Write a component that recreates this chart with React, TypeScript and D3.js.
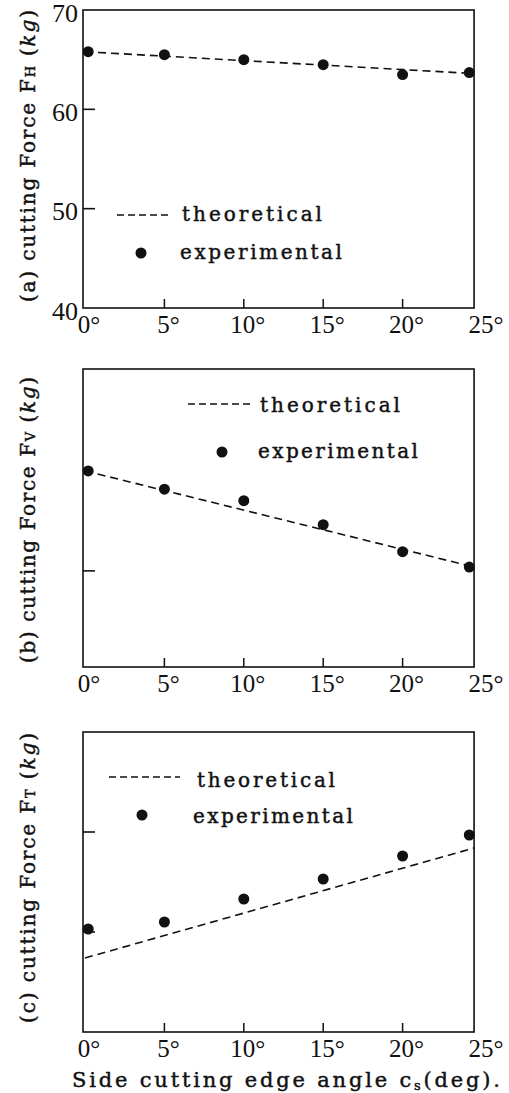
import React, { useEffect, useRef } from 'react'
import * as d3 from 'd3'

// side cutting edge angle of each measurement (deg)
const angles = [0.2, 5, 10, 15, 20, 24.2]
// experimental forces (kg)
const expH = [65.8, 65.5, 65.0, 64.5, 63.5, 63.7]
const expV = [30.4, 28.5, 27.3, 24.8, 22.0, 20.4]
const expT = [20.3, 21.0, 23.3, 25.3, 27.6, 29.7]
// theoretical line end points
const theoryAngles = [0, 24.5]
const theoryH = [65.8, 63.6]
const theoryV = [30.4, 20.4]
const theoryT = [17.4, 28.4]

const xTicks = [0, 5, 10, 15, 20, 25]
const xTickLabels = ['0°', '5°', '10°', '15°', '20°', '25°']
const hTickValues = [40, 50, 60, 70]
const hTickLabels = ['40', '50', '60', '70']

const SERIF = '"DejaVu Serif", serif'
const NUM = '"Liberation Serif", serif'

export default function App() {
  const ref = useRef<SVGSVGElement>(null)

  useEffect(() => {
    const svg = d3.select(ref.current)
    svg.selectAll('*').remove()

    const x = d3.scaleLinear().domain([0, 25]).range([85, 482])
    const frameMax = 24.5

    const panels = [
      {
        tag: '(a)', sub: 'H', top: 10, bottom: 308, domain: [40, 70], exp: expH, theory: theoryH,
        innerTicks: [50, 60], labels: true, labelCenter: 156, labelLen: 292,
        leg: { dx1: 117, dx2: 168, dy: 215, tx: 182, ty: 221, tw: 140, cx: 141, cy: 253, ex: 180, ey: 259, ew: 162 },
      },
      {
        tag: '(b)', sub: 'V', top: 369, bottom: 667, domain: [10, 41], exp: expV, theory: theoryV,
        innerTicks: [20], labels: false, labelCenter: 520, labelLen: 286,
        leg: { dx1: 188, dx2: 250, dy: 404, tx: 260, ty: 412, tw: 140, cx: 222, cy: 452, ex: 258, ey: 458, ew: 160 },
      },
      {
        tag: '(c)', sub: 'T', top: 732, bottom: 1032, domain: [10, 40], exp: expT, theory: theoryT,
        innerTicks: [20, 30], labels: false, labelCenter: 878, labelLen: 290,
        leg: { dx1: 109, dx2: 180, dy: 777, tx: 197, ty: 787, tw: 138, cx: 142, cy: 815, ex: 193, ey: 823, ew: 160 },
      },
    ]

    // heavier strokes on the typewriter-like text
    const heavy = (sel: any, size: number) => sel
      .style('font-family', SERIF).style('font-size', size + 'px')
      .attr('fill', '#111').attr('stroke', '#111').attr('stroke-width', 0.45)

    panels.forEach(p => {
      const y = d3.scaleLinear().domain(p.domain).range([p.bottom, p.top])
      const g = svg.append('g')
      const left = x(0) - 2
      const right = x(frameMax)

      // frame
      g.append('rect')
        .attr('x', left).attr('y', p.top)
        .attr('width', right - left).attr('height', p.bottom - p.top)
        .attr('fill', 'none').attr('stroke', '#111').attr('stroke-width', 1.6)

      // inner x ticks
      g.selectAll('line.xt').data([5, 10, 15, 20]).enter().append('line')
        .attr('x1', d => x(d)).attr('x2', d => x(d))
        .attr('y1', p.bottom).attr('y2', p.bottom - 9)
        .attr('stroke', '#111').attr('stroke-width', 1.5)

      // inner y ticks
      g.selectAll('line.yt').data(p.innerTicks).enter().append('line')
        .attr('x1', left).attr('x2', left + 12)
        .attr('y1', d => y(d)).attr('y2', d => y(d))
        .attr('stroke', '#111').attr('stroke-width', 1.6)

      // x tick labels
      g.selectAll('text.xl').data(xTicks).enter().append('text')
        .attr('x', d => x(d) + 4).attr('y', p.bottom + 25)
        .attr('text-anchor', 'middle')
        .style('font-family', NUM).style('font-size', '25px').attr('fill', '#111')
        .text((d, i) => xTickLabels[i])

      if (p.labels) {
        g.selectAll('text.yl').data(hTickValues).enter().append('text')
          .attr('x', left - 5).attr('y', d => y(d))
          .attr('dy', '0.45em')
          .attr('text-anchor', 'end')
          .style('font-family', NUM).style('font-size', '26px').attr('fill', '#111')
          .text((d, i) => hTickLabels[i])
      }

      // theoretical line
      const line = d3.line<number>()
        .x((d, i) => x(theoryAngles[i]))
        .y(d => y(d))
      g.append('path')
        .attr('d', line(p.theory))
        .attr('fill', 'none').attr('stroke', '#111').attr('stroke-width', 1.6)
        .attr('stroke-dasharray', '8,5')

      // experimental points
      g.selectAll('circle.pt').data(p.exp).enter().append('circle')
        .attr('cx', (d, i) => x(angles[i])).attr('cy', d => y(d))
        .attr('r', 5.5).attr('fill', '#111')

      // legend
      const L = p.leg
      g.append('line')
        .attr('x1', L.dx1).attr('x2', L.dx2).attr('y1', L.dy).attr('y2', L.dy)
        .attr('stroke', '#111').attr('stroke-width', 1.6).attr('stroke-dasharray', '7,4')
      heavy(g.append('text'), 20)
        .attr('x', L.tx).attr('y', L.ty)
        .attr('textLength', L.tw).attr('lengthAdjust', 'spacing')
        .text('theoretical')
      g.append('circle').attr('cx', L.cx).attr('cy', L.cy).attr('r', 5.5).attr('fill', '#111')
      heavy(g.append('text'), 20)
        .attr('x', L.ex).attr('y', L.ey)
        .attr('textLength', L.ew).attr('lengthAdjust', 'spacing')
        .text('experimental')

      // rotated y label
      const yl = heavy(g.append('text'), 20)
        .attr('transform', 'translate(35,' + p.labelCenter + ') rotate(-90)')
        .attr('text-anchor', 'middle')
        .attr('textLength', p.labelLen).attr('lengthAdjust', 'spacing')
      yl.append('tspan').text(p.tag + ' cutting Force F')
      yl.append('tspan').style('font-size', '13px').text(p.sub)
      yl.append('tspan').text(' (')
      yl.append('tspan').style('font-style', 'italic').text('kg')
      yl.append('tspan').text(')')
    })

    // x axis title
    const t = heavy(svg.append('text'), 21)
      .attr('x', 72).attr('y', 1087)
      .attr('textLength', 428).attr('lengthAdjust', 'spacing')
    t.append('tspan').text('Side cutting edge angle c')
    t.append('tspan').style('font-size', '13px').attr('dy', 3).text('s')
    t.append('tspan').attr('dy', -3).text('(deg).')
  }, [])

  return (
    <svg ref={ref} width={509} height={1093}
      style={{ position: 'absolute', left: 0, top: 0, background: '#fff' }} />
  )
}
